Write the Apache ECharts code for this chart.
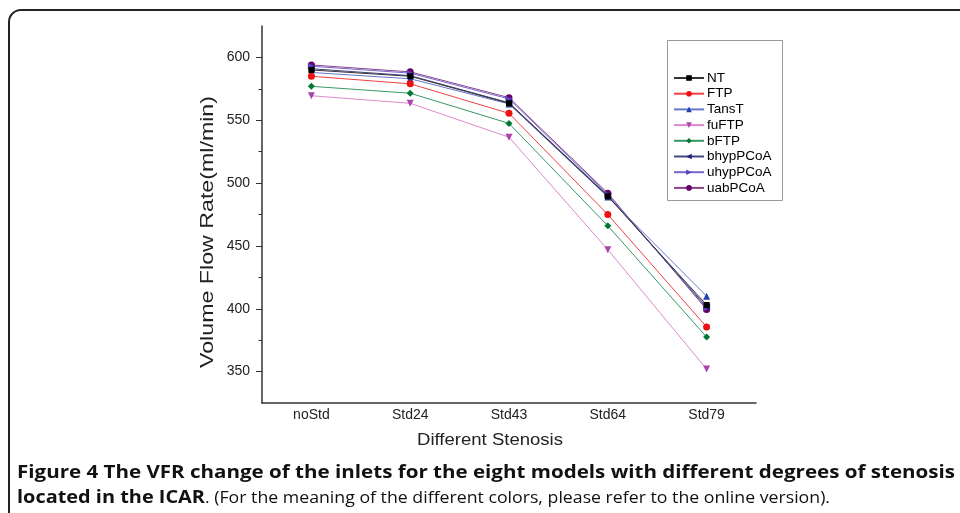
<!DOCTYPE html>
<html>
<head>
<meta charset="utf-8">
<script src="https://cdn.jsdelivr.net/npm/echarts@6/dist/echarts.min.js"></script>
<style>html,body{margin:0;padding:0;background:#fff}#c{width:960px;height:513px}</style>
</head>
<body>
<div id="c"></div>
<script>
var categories = ['noStd', 'Std24', 'Std43', 'Std64', 'Std79'];
var seriesNames = ['NT', 'FTP', 'TansT', 'fuFTP', 'bFTP', 'bhypPCoA', 'uhypPCoA', 'uabPCoA'];
var NT       = [590, 585, 563.5, 489.5, 403];
var FTP      = [585, 579, 555.5, 475, 385.5];
var TansT    = [588, 583, 563, 489, 410];
var fuFTP    = [569.5, 563.5, 536.5, 447, 352];
var bFTP     = [577, 571.5, 547.5, 466, 377.5];
var bhypPCoA = [591, 585.5, 564, 490, 401.5];
var uhypPCoA = [593, 587.5, 567, 491, 400.5];
var uabPCoA  = [594, 588.5, 568, 492, 399.5];
var yMajorTicks = [350, 400, 450, 500, 550, 600];
var yMinorTicks = [375, 425, 475, 525, 575];
var yLabel = 'Volume Flow Rate(ml/min)';
var xLabel = 'Different Stenosis';
var captionBold1 = 'Figure 4 The VFR change of the inlets for the eight models with different degrees of stenosis';
var captionBold2 = 'located in the ICAR';
var captionNormal2 = '. (For the meaning of the different colors, please refer to the online version).';

var values = [NT, FTP, TansT, fuFTP, bFTP, bhypPCoA, uhypPCoA, uabPCoA];
var lineColors = ['#333333', '#f04040', '#6677cc', '#dd88cc', '#339966', '#444488', '#7766cc', '#884488'];
var markColors = ['#000000', '#ee1111', '#2244aa', '#aa44aa', '#007733', '#222277', '#5544bb', '#660066'];
var symbols = ['rect', 'circle', 'triangle', 'triangle', 'diamond', 'triangle', 'triangle', 'circle'];
var rots = [0, 0, 0, 180, 0, 90, -90, 0];
var sizes = [6, 7, 7, 7, 7, 7, 7, 7];

// text width measuring helper (for fitting caption widths)
var mctx = document.createElement('canvas').getContext('2d');
function textW(font, s) { mctx.font = font; return mctx.measureText(s).width; }

var chart = echarts.init(document.getElementById('c'));
var FONT = 'Liberation Sans';
var series = seriesNames.map(function (n, i) {
  return {
    name: n, type: 'line', data: values[i], yAxisIndex: 0,
    symbol: symbols[i], symbolRotate: rots[i], symbolSize: sizes[i],
    showAllSymbol: true,
    lineStyle: { color: lineColors[i], width: 1 },
    itemStyle: { color: markColors[i] },
    z: 10 - i
  };
});

var capFontB = 'bold 17px "Open Sans"';
var capFontN = '17px "Open Sans"';
var s1 = (955 - 17) / textW(capFontB, captionBold1);
var s2 = (205 - 17) / textW(capFontB, captionBold2);
var s3 = (830 - 205) / textW(capFontN, captionNormal2);
var yNameFont = '18px "Liberation Sans"';
var sY = 272 / textW(yNameFont, yLabel);
var xNameFont = '16px "Liberation Sans"';
var sX = 146 / textW(xNameFont, xLabel);

chart.setOption({
  animation: false,
  grid: { left: 262, right: 204, top: 26, bottom: 110 },
  legend: {
    data: seriesNames, orient: 'vertical', left: 668, top: 66,
    itemWidth: 30, itemHeight: 7, itemGap: 1.7,
    textStyle: { fontFamily: FONT, fontSize: 13.5, lineHeight: 12, color: '#000', padding: [0, 0, 0, -2] }
  },
  xAxis: {
    type: 'category', data: categories, boundaryGap: true,
    axisLine: { lineStyle: { color: '#333', width: 1.5 } },
    axisTick: { alignWithLabel: true, length: 5, lineStyle: { color: '#333' } },
    axisLabel: { fontFamily: FONT, fontSize: 14, color: '#222', margin: 5 }
  },
  yAxis: [{
    type: 'value', min: 325, max: 625, interval: 25,
    axisLine: { show: true, lineStyle: { color: '#333', width: 1.5 } },
    axisTick: { show: true, length: 6, customValues: yMajorTicks, lineStyle: { color: '#333' } },
    axisLabel: { fontFamily: FONT, fontSize: 14, color: '#222', margin: 12, customValues: yMajorTicks },
    splitLine: { show: false }
  }, {
    type: 'value', min: 325, max: 625, interval: 25, position: 'left',
    axisLine: { show: false },
    axisTick: { show: true, length: 3.5, customValues: yMinorTicks, lineStyle: { color: '#333' } },
    axisLabel: { show: false },
    splitLine: { show: false }
  }],
  series: series,
  graphic: [
    { type: 'rect', shape: { x: 9, y: 10, width: 1000, height: 600, r: 12 }, style: { fill: 'none', stroke: '#222', lineWidth: 2 }, z: -1 },
    { type: 'rect', shape: { x: 667.5, y: 40.5, width: 115, height: 160 }, style: { fill: 'none', stroke: '#999', lineWidth: 1 }, z: -1 },
    { type: 'text', x: 208, y: 232, rotation: Math.PI / 2, scaleX: sY, style: { text: yLabel, font: yNameFont, fill: '#222', align: 'center', verticalAlign: 'middle' } },
    { type: 'text', x: 490, y: 441, scaleX: sX, style: { text: xLabel, font: xNameFont, fill: '#222', align: 'center', verticalAlign: 'middle' } },
    { type: 'text', x: 17, y: 473, scaleX: s1, style: { text: captionBold1, font: capFontB, fill: '#111', verticalAlign: 'middle' } },
    { type: 'text', x: 17, y: 498, scaleX: s2, style: { text: captionBold2, font: capFontB, fill: '#111', verticalAlign: 'middle' } },
    { type: 'text', x: 205, y: 498, scaleX: s3, style: { text: captionNormal2, font: capFontN, fill: '#111', verticalAlign: 'middle' } }
  ]
});
</script>
</body>
</html>
